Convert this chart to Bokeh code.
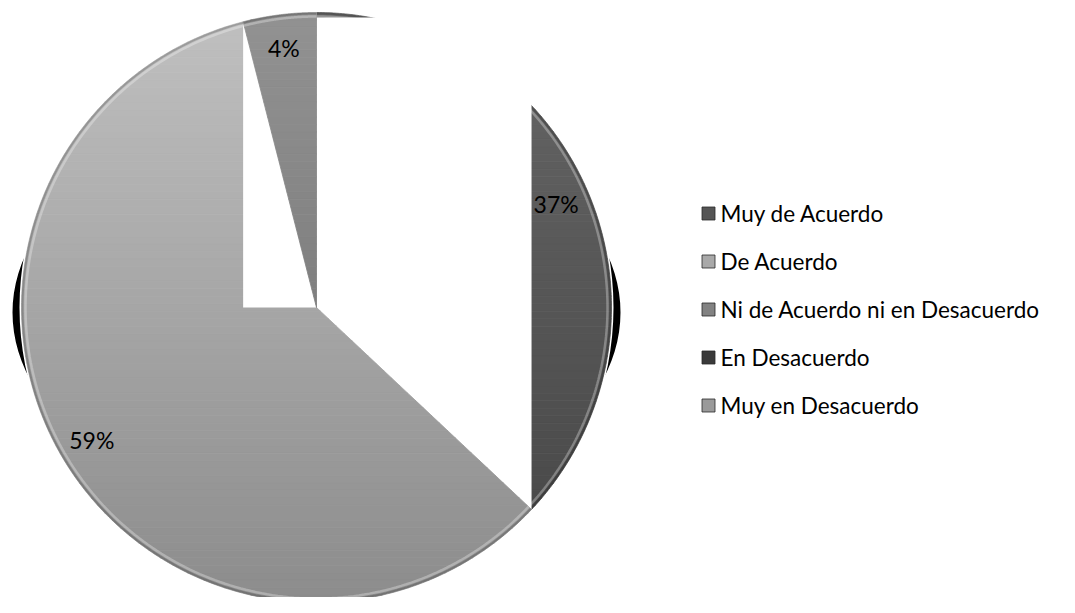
import numpy as np
from bokeh.plotting import figure
from bokeh.models import Range1d
from bokeh.core.properties import value
from bokeh.embed import file_html
from bokeh.resources import INLINE

# ---------------- data ----------------
categories = ["Muy de Acuerdo", "De Acuerdo", "Ni de Acuerdo ni en Desacuerdo",
              "En Desacuerdo", "Muy en Desacuerdo"]
values = [37, 59, 4, 0, 0]
pct_labels = [f"{v}%" for v in values]

# ---------------- style ----------------
top_colors = ["#666666", "#c0c0c0", "#929292", "#4a4a4a", "#b2b2b2"]
bottom_colors = ["#454545", "#8c8c8c", "#6c6c6c", "#2e2e2e", "#8a8a8a"]
legend_colors = ["#555555", "#a9a9a9", "#828282", "#3a3a3a", "#9a9a9a"]
FONT = "Lato"

W, H = 1059, 597
p = figure(width=W, height=H, x_range=Range1d(0, W), y_range=Range1d(H, 0),
           output_backend="svg", toolbar_location=None, min_border=0,
           x_axis_location=None, y_axis_location=None)
p.grid.visible = False
p.outline_line_color = None
p.background_fill_color = "white"

CX, CY, R = 316.0, 307.0, 295.0
total = float(sum(values))
cum = np.concatenate([[0.0], np.cumsum(values) / total])


def pt(frac, rad):
    a = 2 * np.pi * np.asarray(frac)
    return CX + rad * np.sin(a), CY - rad * np.cos(a)


def slice_poly(f0, f1, n=240):
    t = np.linspace(f0, f1, n)
    xs, ys = pt(t, R)
    return [(CX, CY)] + list(zip(xs, ys))


def clip(poly, c, keep_above):
    out = []
    n = len(poly)
    for i in range(n):
        P, Q = poly[i], poly[(i + 1) % n]
        pin = (P[1] >= c) if keep_above else (P[1] <= c)
        qin = (Q[1] >= c) if keep_above else (Q[1] <= c)
        if pin:
            out.append(P)
        if pin != qin:
            t = (c - P[1]) / (Q[1] - P[1])
            out.append((P[0] + t * (Q[0] - P[0]), c))
    return out


def hexmix(c1, c2, t):
    a = [int(c1[i:i + 2], 16) for i in (1, 3, 5)]
    b = [int(c2[i:i + 2], 16) for i in (1, 3, 5)]
    return "#" + "".join(f"{int(round(x + (y - x) * t)):02x}" for x, y in zip(a, b))


def draw_slice(i):
    if values[i] <= 0:
        return
    poly = slice_poly(cum[i], cum[i + 1])
    edges = np.linspace(CY - R, CY + R, 80)
    xs_l, ys_l, cols = [], [], []
    for y0, y1 in zip(edges[:-1], edges[1:]):
        band = clip(clip(poly, y0, True), y1, False)
        if len(band) < 3:
            continue
        xs_l.append([q[0] for q in band])
        ys_l.append([q[1] for q in band])
        cols.append(hexmix(top_colors[i], bottom_colors[i], ((y0 + y1) / 2 - (CY - R)) / (2 * R)))
    p.patches(xs_l, ys_l, fill_color=cols, line_color=cols, line_width=0.8)
    t = np.linspace(cum[i], cum[i + 1], 200)
    hx, hy = pt(t, R - 4)
    p.line(hx, hy, line_color="white", line_alpha=0.3, line_width=2.5)
    ox, oy = pt(t, R - 1)
    p.line(ox, oy, line_color="black", line_alpha=0.18, line_width=2)


# rendering artefacts of the original (shadow crescents and blank boxes)
p.ellipse(x=[CX], y=[CY + 5], width=[2 * (R + 9)], height=[400], fill_color="black", line_color=None)
p.ellipse(x=[CX], y=[CY], width=[2 * R + 4], height=[2 * R + 4], fill_color="white", line_color=None)

draw_slice(0)
ex, ey = pt(cum[1], R)
p.quad(left=[CX], right=[ex], top=[CY - R + 5], bottom=[ey], fill_color="white", line_color=None)
draw_slice(1)
lx, ly = pt(cum[2], R)
p.quad(left=[lx], right=[CX], top=[CY - R - 1], bottom=[CY], fill_color="white", line_color=None)
for k in range(2, len(values)):
    draw_slice(k)

# percentage labels
lab_x, lab_y, lab_t = [], [], []
for i, v in enumerate(values):
    if v <= 0:
        continue
    mx, my = pt((cum[i] + cum[i + 1]) / 2, 0.885 * R)
    lab_x.append(mx); lab_y.append(my); lab_t.append(pct_labels[i])
p.text(lab_x, lab_y, text=lab_t, text_font=value(FONT), text_font_size="23px",
       text_color="black", text_align="center", text_baseline="middle")

# legend
ly0, dy = 213, 48
leg_y = [ly0 + dy * k for k in range(len(categories))]
p.scatter([708] * len(categories), leg_y, marker="square", size=13,
          fill_color=legend_colors, line_color="#2a2a2a", line_width=0.8)
p.text([720] * len(categories), leg_y, text=categories, text_font=value(FONT),
       text_font_size="22.5px", text_color="black", text_align="left", text_baseline="middle")

open("out.html", "w").write(file_html(p, INLINE))
